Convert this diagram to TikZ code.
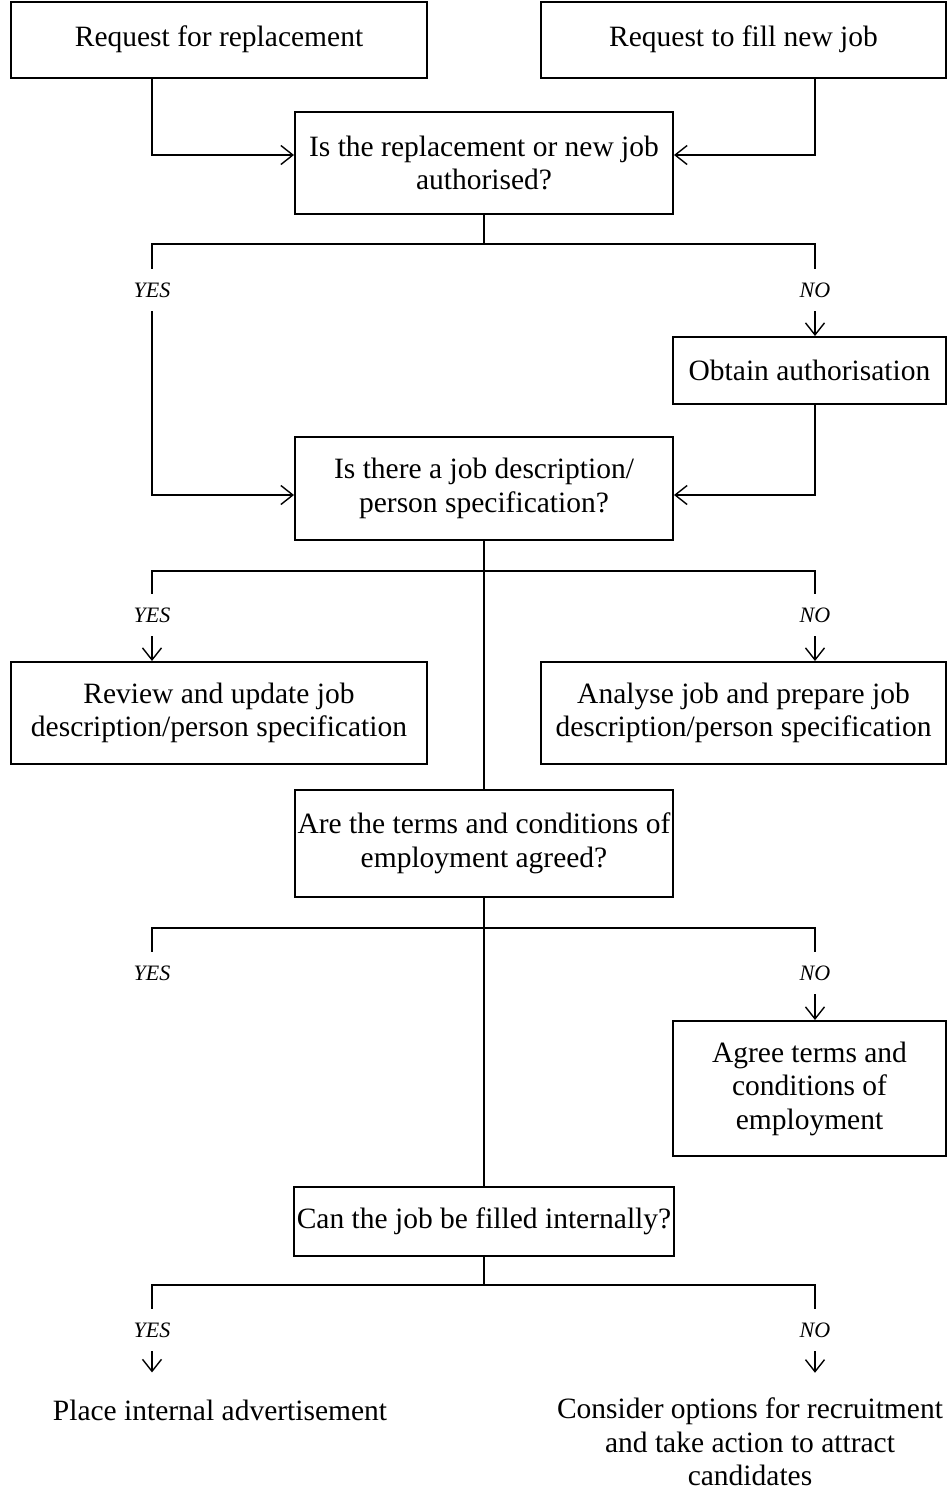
\documentclass[tikz,border=0pt]{standalone}
\usepackage{fontspec}
\setmainfont{Liberation Serif}
\usetikzlibrary{arrows.meta}
\begin{document}
\begin{tikzpicture}[x=1pt,y=-1pt,
  box/.style={draw, line width=2pt, inner sep=0pt, align=center,
    font=\fontsize{29.5}{33.5}\selectfont},
  plain/.style={inner xsep=0pt, inner ysep=28pt, align=center,
    font=\fontsize{29.5}{33.5}\selectfont},
  answer/.style={inner sep=0pt, minimum height=42pt,
    font=\fontsize{22}{26}\selectfont\itshape},
  link/.style={line width=1.4pt},
  flow/.style={link, -{Straight Barb[length=12pt,width=19pt]}}]
\useasboundingbox (0,0) rectangle (947,1492);

% requests
\node[box, minimum width=416pt, minimum height=76pt] (req1) at (219,39.5) {Request for replacement};
\node[box, minimum width=405pt, minimum height=76pt] (req2) at (743.5,39.5) {Request to fill new job};

% authorisation
\node[box, minimum width=378pt, minimum height=102pt] (q1) at (484,163) {Is the replacement or new job\\authorised?};
\node[answer] (yes1) at (152,290) {YES};
\node[answer] (no1) at (815,290) {NO};
\node[box, minimum width=273pt, minimum height=67pt] (obtain) at (809.5,370.5) {Obtain authorisation};

% job description
\node[box, minimum width=378pt, minimum height=103pt] (q2) at (484,488.5) {Is there a job description/\\person specification?};
\node[answer] (yes2) at (152,615) {YES};
\node[answer] (no2) at (815,615) {NO};
\node[box, minimum width=416pt, minimum height=102pt] (review) at (219,713) {Review and update job\\description/person specification};
\node[box, minimum width=405pt, minimum height=102pt] (analyse) at (743.5,713) {Analyse job and prepare job\\description/person specification};

% terms and conditions
\node[box, minimum width=378pt, minimum height=107pt] (q3) at (484,843.5) {Are the terms and conditions of\\employment agreed?};
\node[answer] (yes3) at (152,973) {YES};
\node[answer] (no3) at (815,973) {NO};
\node[box, minimum width=273pt, minimum height=135pt] (agree) at (809.5,1088.5) {Agree terms and\\conditions of\\employment};

% internal or external
\node[box, minimum width=380pt, minimum height=69pt] (q4) at (484,1221.5) {Can the job be filled internally?};
\node[answer] (yes4) at (152,1330) {YES};
\node[answer] (no4) at (815,1330) {NO};
\node[plain] (place) at (220,1410) {Place internal advertisement};
\node[plain] (consider) at (750,1442) {Consider options for recruitment\\and take action to attract\\candidates};

% branch points
\coordinate (b1) at (484,244);
\coordinate (b2) at (484,571);
\coordinate (b3) at (484,928);
\coordinate (b4) at (484,1285);

% connectors: authorisation
\draw[flow] (req1.south -| yes1) |- ([yshift=8pt]q1.west);
\draw[flow] (req2.south -| no1) |- ([yshift=8pt]q1.east);
\draw[link] (q1.south) -- (b1);
\draw[link] (yes1.north) |- (b1) -| (no1.north);
\draw[flow] (yes1.south) |- ([yshift=-6.5pt]q2.west);
\draw[flow] (no1.south) -- (obtain.north -| no1.south);
\draw[flow] (obtain.south -| no1) |- ([yshift=-6.5pt]q2.east);

% connectors: job description
\draw[link] (q2.south) -- (q3.north);
\draw[link] (yes2.north) |- (b2) -| (no2.north);
\draw[flow] (yes2.south) -- (review.north -| yes2.south);
\draw[flow] (no2.south) -- (analyse.north -| no2.south);

% connectors: terms and conditions
\draw[link] (q3.south) -- (q4.north);
\draw[link] (yes3.north) |- (b3) -| (no3.north);
\draw[flow] (no3.south) -- (agree.north -| no3.south);

% connectors: internal or external
\draw[link] (q4.south) -- (b4);
\draw[link] (yes4.north) |- (b4) -| (no4.north);
\draw[flow] (yes4.south) -- ([yshift=-1pt]place.north -| yes4.south);
\draw[flow] (no4.south) -- ([yshift=-3pt]consider.north -| no4.south);
\end{tikzpicture}
\end{document}
